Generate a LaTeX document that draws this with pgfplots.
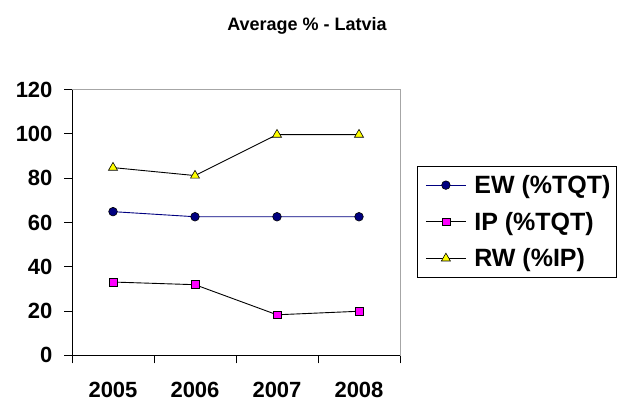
\documentclass[border=0pt]{standalone}
\usepackage{pgfplots}
\pgfplotsset{compat=1.18}
\usepackage{fontspec}
\setmainfont{Liberation Sans}
\definecolor{ewnavy}{HTML}{000080}
\definecolor{ipmag}{HTML}{FF00FF}
\definecolor{rwyel}{HTML}{FFFF00}
\begin{document}
\begin{tikzpicture}
\useasboundingbox (0,0) rectangle (617pt,403pt);
\node[font=\bfseries\fontsize{18}{21}\selectfont] at (307pt,377pt) {Average \% - Latvia};
\begin{axis}[
  at={(72pt,47.7pt)}, anchor=south west,
  scale only axis, width=328pt, height=265.6pt,
  xmin=-0.5, xmax=3.5, ymin=0, ymax=120,
  xtick={0,1,2,3}, xticklabels={2005,2006,2007,2008},
  major x tick style={draw=none},
  minor xtick={-0.5,0.5,1.5,2.5,3.5},
  minor x tick style={black, line width=1pt},
  ytick={0,20,...,120},
  y tick style={black, line width=1pt},
  tick align=outside, major tick length=8pt, minor tick length=8pt,
  xtick pos=bottom, ytick pos=left,
  axis line style={gray!70, line width=0.8pt},
  ticklabel style={font=\bfseries\fontsize{22}{24}\selectfont},
  /pgf/number format/assume math mode=true,
  xticklabel style={yshift=-15pt},
  yticklabel style={xshift=-8pt},
  legend style={at={(1.052,0.713)}, anchor=north west, draw=black, line width=0.8pt,
    font=\bfseries\fontsize{25}{28}\selectfont, inner xsep=4pt, inner ysep=7pt,
    row sep=13pt, cells={anchor=west}, nodes={inner sep=2pt}},
  legend image code/.code={\path (-4pt,0pt) (46pt,0pt);\draw[mark repeat=2,mark phase=2,#1] plot coordinates {(0pt,0pt) (20pt,0pt) (40pt,0pt)};},
]
\addplot[ewnavy, line width=0.9pt, mark=*, mark size=4.3pt, mark options={fill=ewnavy, draw=black, line width=0.6pt}]
  coordinates {(0,64.9) (1,62.6) (2,62.6) (3,62.6)};
\addlegendentry{EW (\%TQT)}
\addplot[black, line width=0.9pt, mark=square*, mark size=3.9pt, mark options={fill=ipmag, draw=black, line width=0.6pt}]
  coordinates {(0,33.1) (1,31.9) (2,18.3) (3,19.9)};
\addlegendentry{IP (\%TQT)}
\addplot[black, line width=0.9pt, mark=triangle*, mark size=5.2pt, mark options={fill=rwyel, draw=black, line width=0.6pt}]
  coordinates {(0,84.8) (1,81.2) (2,99.7) (3,99.7)};
\addlegendentry{RW (\%IP)}
\draw[black, line width=1.3pt] (rel axis cs:0,1) -- (rel axis cs:0,0) -- (rel axis cs:1,0);
\end{axis}
\end{tikzpicture}
\end{document}
